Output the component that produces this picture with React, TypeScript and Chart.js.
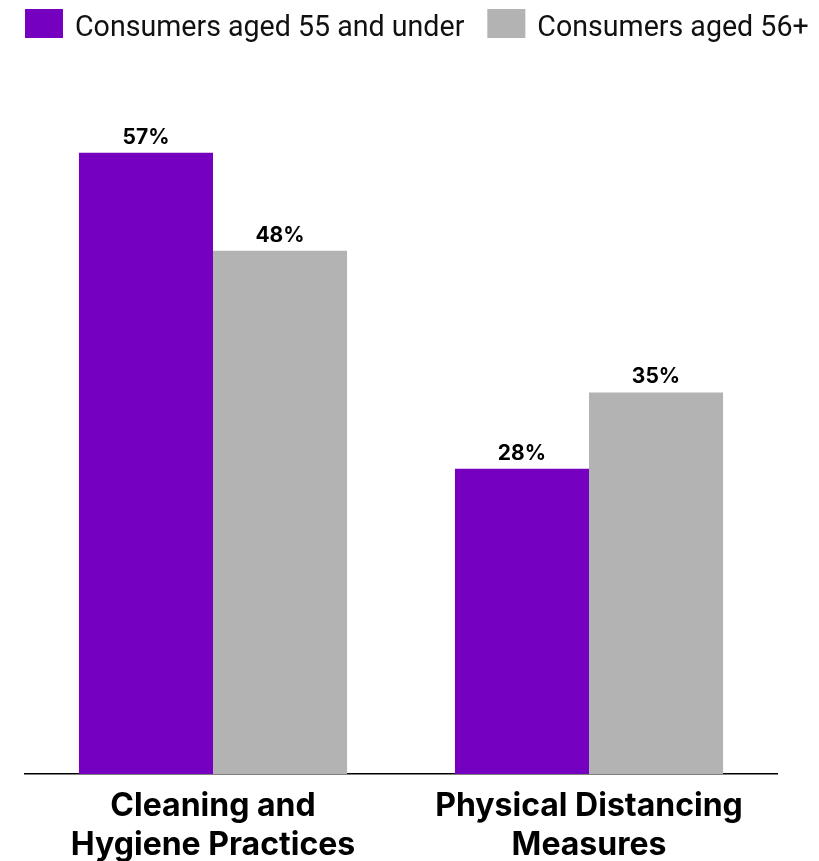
import React, { useEffect, useRef } from "react";
import { Chart, registerables } from "chart.js";

Chart.register(...registerables);

const categories: string[][] = [
  ["Cleaning and", "Hygiene Practices"],
  ["Physical Distancing", "Measures"],
];
const seriesNames = ["Consumers aged 55 and under", "Consumers aged 56+"];
const under55 = [57, 28];
const over56 = [48, 35];
const colors = ["#7500c0", "#b3b3b3"];

const customLegend = {
  id: "customLegend",
  afterDraw(chart: any) {
    const ctx = chart.ctx;
    ctx.save();
    ctx.font = "28.6px Roboto, sans-serif";
    ctx.textBaseline = "alphabetic";
    ctx.textAlign = "left";
    let x = 25;
    chart.data.datasets.forEach((ds: any) => {
      ctx.fillStyle = ds.backgroundColor;
      ctx.fillRect(x, 9, 38, 29);
      ctx.fillStyle = "#111";
      const tx = x + 50;
      ctx.fillText(ds.label, tx, 36);
      x = tx + ctx.measureText(ds.label).width + 23;
    });
    ctx.restore();
  },
};

const valueLabels = {
  id: "valueLabels",
  afterDatasetsDraw(chart: any) {
    const ctx = chart.ctx;
    ctx.save();
    ctx.fillStyle = "#000";
    ctx.font = "bold 21px Inter, 'Noto Sans', sans-serif";
    ctx.textAlign = "center";
    ctx.textBaseline = "alphabetic";
    chart.data.datasets.forEach((ds: any, i: number) => {
      const meta = chart.getDatasetMeta(i);
      meta.data.forEach((bar: any, j: number) => {
        ctx.fillText(ds.data[j] + "%", bar.x, bar.y - 9);
      });
    });
    ctx.restore();
  },
};

export default function App() {
  const ref = useRef<HTMLCanvasElement>(null);
  useEffect(() => {
    const chart = new Chart(ref.current!, {
      type: "bar",
      data: {
        labels: categories,
        datasets: [
          { label: seriesNames[0], data: under55, backgroundColor: colors[0] },
          { label: seriesNames[1], data: over56, backgroundColor: colors[1] },
        ],
      },
      options: {
        animation: false,
        responsive: false,
        datasets: { bar: { categoryPercentage: 0.713, barPercentage: 1.0 } },
        layout: { padding: { left: 25, right: 42, top: 120, bottom: -17 } },
        plugins: {
          legend: { display: false },
          tooltip: { enabled: false },
        },
        scales: {
          x: {
            grid: { display: false, drawTicks: false },
            border: { display: true, color: "#000", width: 1.5 },
            ticks: {
              color: "#000",
              padding: 13,
              font: { family: "Inter, sans-serif", size: 32, weight: "bold", lineHeight: 1.22 },
              maxRotation: 0,
            },
          },
          y: {
            display: false,
            min: 0,
            max: 60,
          },
        },
      },
      plugins: [customLegend, valueLabels],
    });
    return () => chart.destroy();
  }, []);
  return (
    <div style={{ position: "fixed", left: 0, top: 0, width: 819, height: 861, background: "#fff" }}>
      <canvas ref={ref} width={819} height={861} />
    </div>
  );
}
